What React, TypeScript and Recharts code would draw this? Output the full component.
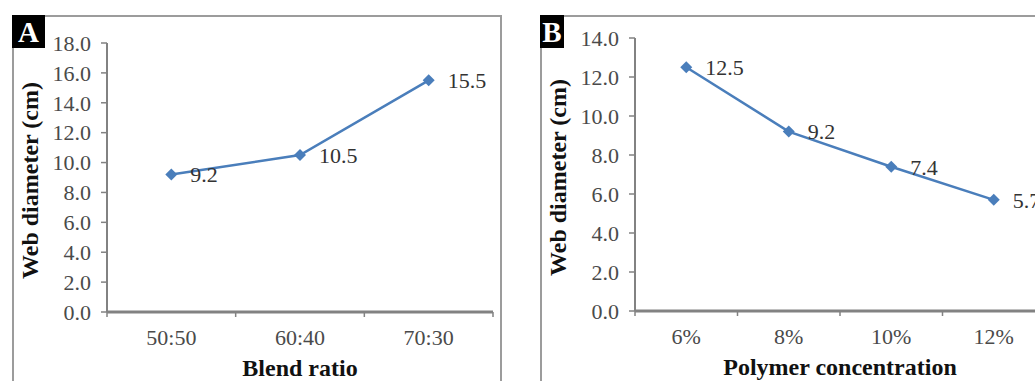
import React from 'react';
import { LineChart, Line, XAxis, YAxis, LabelList } from 'recharts';

// Panel A: web diameter vs blend ratio
const blendRatios = ['50:50', '60:40', '70:30'];
const blendDiameters = [9.2, 10.5, 15.5];
const blendTicks = [0, 2, 4, 6, 8, 10, 12, 14, 16, 18];

// Panel B: web diameter vs polymer concentration
const concentrations = ['6%', '8%', '10%', '12%'];
const concentrationDiameters = [12.5, 9.2, 7.4, 5.7];
const concentrationTicks = [0, 2, 4, 6, 8, 10, 12, 14];

const SERIF = '"Liberation Serif", "Times New Roman", Times, serif';
const LINE_BLUE = '#4a7ebb';
const AXIS_GREY = '#828282';

interface PanelProps {
  letter: string;
  categories: string[];
  values: number[];
  yTicks: number[];
  xTitle: string;
  left: number;
  width: number;
  marginTop: number;
  marginRight: number;
  xAxisHeight: number;
  boxWidth: number;
}

// points sit in the middle of each category slot, tick marks on the slot edges
const buildRows = (categories: string[], values: number[]) =>
  categories.map((name, i) => ({ pos: i + 0.5, name, value: values[i] }));

const Diamond = (props: any) => {
  const { cx, cy } = props;
  if (cx == null || cy == null) return null;
  const r = 6;
  return (
    <polygon
      points={`${cx},${cy - r} ${cx + r},${cy} ${cx},${cy + r} ${cx - r},${cy}`}
      fill={LINE_BLUE}
    />
  );
};

const Panel: React.FC<PanelProps> = ({
  letter, categories, values, yTicks, xTitle, left, width,
  marginTop, marginRight, xAxisHeight, boxWidth,
}) => {
  const rows = buildRows(categories, values);
  const xTicks: number[] = [];
  for (let k = 0; k <= categories.length * 2; k++) xTicks.push(k / 2);

  const renderXTick = (p: any) => {
    const v = p.payload.value as number;
    if (Number.isInteger(v)) {
      return <line x1={p.x} x2={p.x} y1={p.y} y2={p.y + 5} stroke={AXIS_GREY} strokeWidth={1.5} />;
    }
    return (
      <text x={p.x} y={p.y + 25} dy="0.355em" textAnchor="middle" fill="#4a4a4a" fontSize={22} fontFamily={SERIF}>
        {categories[Math.floor(v)]}
      </text>
    );
  };

  return (
    <div style={{ position: 'absolute', left, top: 15, width, height: 366 }}>
      <div
        style={{
          position: 'absolute', left: 0, top: 0, width: width - 4, height: 380,
          border: '2px solid #9c9c9c', boxSizing: 'content-box',
        }}
      />
      <div
        style={{
          position: 'absolute', left: 0, top: 0, width: boxWidth, height: 33,
          background: '#000', color: '#fff', fontFamily: SERIF, fontWeight: 700,
          fontSize: 29, lineHeight: '34px', textAlign: 'center',
        }}
      >
        {letter}
      </div>
      <LineChart
        width={width}
        height={366}
        data={rows}
        margin={{ top: marginTop, right: marginRight, bottom: 0, left: 0 }}
        style={{ position: 'absolute', left: 0, top: 0 }}
      >
        <XAxis
          dataKey="pos"
          type="number"
          domain={[0, categories.length]}
          ticks={xTicks}
          interval={0}
          tick={renderXTick}
          tickLine={false}
          tickSize={0}
          tickMargin={0}
          height={xAxisHeight}
          axisLine={{ stroke: AXIS_GREY, strokeWidth: 3 }}
          label={{
            content: (lp: any) => {
              const vb = lp.viewBox;
              return (
                <text
                  x={vb.x + vb.width / 2}
                  y={vb.y + 56}
                  dominantBaseline="central"
                  textAnchor="middle"
                  fontFamily={SERIF}
                  fontWeight={700}
                  fontSize={24}
                  fill="#111"
                >
                  {xTitle}
                </text>
              );
            },
          }}
        />
        <YAxis
          type="number"
          domain={[yTicks[0], yTicks[yTicks.length - 1]]}
          ticks={yTicks}
          interval={0}
          width={95}
          tickSize={6}
          tickMargin={10}
          tickFormatter={(v: number) => v.toFixed(1)}
          tick={{ fill: '#4a4a4a', fontSize: 22, fontFamily: SERIF }}
          tickLine={{ stroke: AXIS_GREY, strokeWidth: 1.5 }}
          axisLine={{ stroke: AXIS_GREY, strokeWidth: 2 }}
          label={{
            content: (lp: any) => {
              const vb = lp.viewBox;
              const cx = 18;
              const cy = vb.y + vb.height / 2 + 3;
              return (
                <text
                  x={cx}
                  y={cy}
                  transform={`rotate(-90, ${cx}, ${cy})`}
                  dominantBaseline="central"
                  textAnchor="middle"
                  fontFamily={SERIF}
                  fontWeight={700}
                  fontSize={24}
                  fill="#111"
                >
                  Web diameter (cm)
                </text>
              );
            },
          }}
        />
        <Line
          type="linear"
          dataKey="value"
          stroke={LINE_BLUE}
          strokeWidth={2.5}
          dot={(p: any) => <Diamond key={`d-${p.index}`} {...p} />}
          activeDot={false}
          isAnimationActive={false}
        >
          <LabelList
            dataKey="value"
            position="right"
            offset={19}
            fill="#333"
            fontSize={22}
            fontFamily={SERIF}
            formatter={(v: any) => Number(v).toFixed(1)}
          />
        </Line>
      </LineChart>
    </div>
  );
};

export default function App() {
  return (
    <div
      style={{
        position: 'absolute', left: 0, top: 0, width: 1035, height: 381,
        overflow: 'hidden', background: '#fff',
      }}
    >
      <Panel
        letter="A"
        categories={blendRatios}
        values={blendDiameters}
        yTicks={blendTicks}
        xTitle="Blend ratio"
        left={12}
        width={490}
        marginTop={28}
        marginRight={9}
        xAxisHeight={69}
        boxWidth={33}
      />
      <Panel
        letter="B"
        categories={concentrations}
        values={concentrationDiameters}
        yTicks={concentrationTicks}
        xTitle="Polymer concentration"
        left={540}
        width={520}
        marginTop={23}
        marginRight={15}
        xAxisHeight={70}
        boxWidth={24}
      />
    </div>
  );
}
